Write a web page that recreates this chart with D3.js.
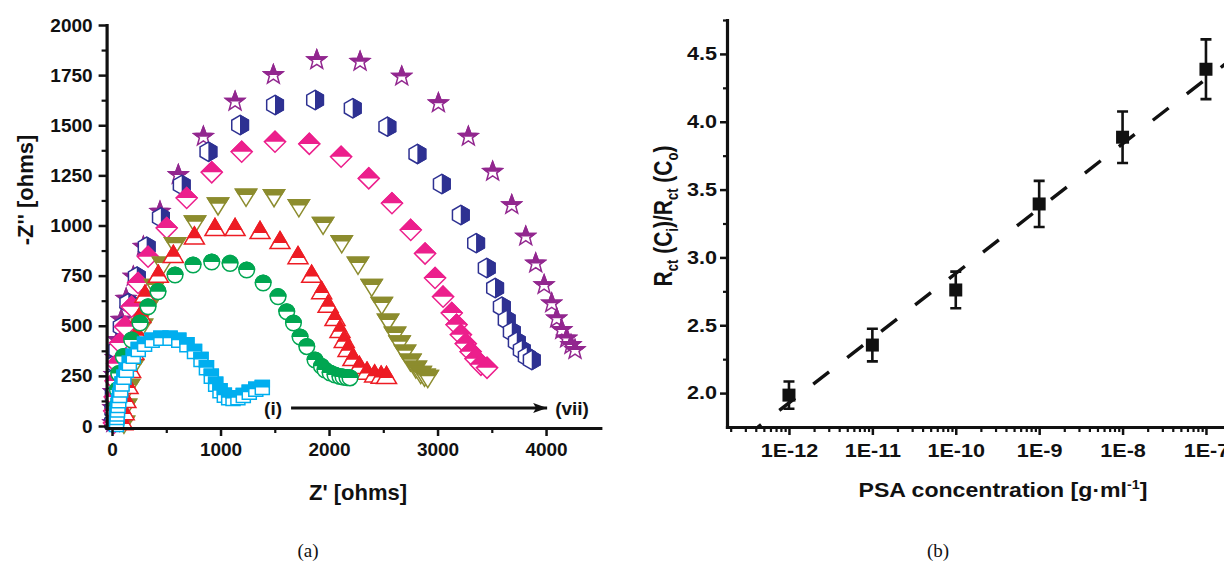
<!DOCTYPE html>
<html>
<head>
<meta charset="utf-8">
<script src="https://cdn.jsdelivr.net/npm/d3@7"></script>
<style>
body { margin: 0; background: #fff; }
text { font-family: "Liberation Sans", Arial, sans-serif; font-weight: bold; fill: #111; }
</style>
</head>
<body>
<svg id="fig" width="1224" height="563"></svg>
<script>
/////////////////////////////////////////////////////////////////////////////
// panel (a): Nyquist plots, each point is [Z' (ohms), -Z'' (ohms)]
var s1 = [[40,8],[42,25],[44,42],[47,60],[51,80],[56,102],[62,126],[70,152],[80,180],[93,210],[110,243],[132,278],[160,313],[196,348],[242,381],[300,408],[370,428],[450,438],[535,438],[615,428],[690,405],[760,372],[820,332],[870,290],[915,248],[955,208],[995,176],[1035,153],[1075,141],[1115,137],[1160,141],[1210,152],[1265,168],[1325,183],[1385,192]];
var s2 = [[38,15],[42,95],[50,180],[62,262],[104,346],[181,429],[258,514],[332,595],[424,670],[581,753],[747,803],[919,818],[1088,811],[1241,778],[1393,713],[1530,645],[1610,570],[1672,514],[1733,444],[1795,396],[1871,329],[1930,298],[1963,279],[2010,264],[2055,254],[2100,247],[2129,244],[2165,241],[2193,240]];
var s3 = [[100,10],[112,60],[128,120],[148,190],[172,270],[200,360],[232,450],[265,545],[304,645],[427,745],[565,844],[759,936],[949,978],[1134,978],[1364,963],[1548,913],[1714,838],[1840,745],[1932,663],[1991,595],[2055,529],[2101,470],[2140,420],[2175,375],[2220,330],[2280,290],[2350,262],[2420,248],[2480,242],[2530,240]];
var s4 = [[110,20],[129,105],[157,204],[194,304],[230,404],[276,504],[332,603],[396,703],[470,813],[581,911],[765,1019],[977,1109],[1235,1152],[1493,1150],[1722,1100],[1945,1012],[2117,920],[2267,813],[2393,703],[2486,613],[2544,529],[2608,464],[2650,420],[2700,375],[2750,330],[2800,295],[2845,268],[2880,255],[2910,248]];
var s5 = [[18,15],[20,75],[25,145],[33,225],[48,310],[74,414],[120,495],[181,595],[240,713],[332,844],[504,987],[688,1137],[919,1265],[1195,1368],[1502,1418],[1818,1407],[2111,1343],[2366,1235],[2580,1111],[2753,978],[2885,860],[2977,738],[3051,645],[3131,563],[3175,505],[3215,455],[3260,410],[3305,370],[3350,335],[3400,305],[3456,290]];
var s6 = [[10,15],[12,80],[16,155],[24,240],[34,310],[48,380],[89,495],[150,613],[228,745],[319,894],[450,1040],[642,1202],[888,1368],[1180,1501],[1502,1601],[1871,1626],[2218,1585],[2537,1493],[2814,1357],[3039,1207],[3214,1052],[3355,912],[3453,788],[3530,688],[3592,595],[3637,529],[3684,470],[3730,420],[3776,379],[3822,346],[3868,329]];
var s7 = [[8,15],[9,90],[12,170],[20,255],[32,340],[52,430],[85,530],[130,635],[196,745],[289,894],[442,1069],[611,1252],[842,1443],[1134,1618],[1487,1751],[1887,1825],[2286,1817],[2670,1743],[3008,1610],[3284,1443],[3508,1268],[3684,1102],[3813,945],[3905,811],[3982,703],[4052,612],[4098,537],[4145,479],[4190,437],[4230,404],[4267,379]];
var seriesA = [s1, s2, s3, s4, s5, s6, s7];
var xTicksA = [0, 1000, 2000, 3000, 4000];
var xMinorA = [500, 1500, 2500, 3500];
var yTicksA = [0, 250, 500, 750, 1000, 1250, 1500, 1750, 2000];
var yMinorA = [125, 375, 625, 875, 1125, 1375, 1625, 1875];

// panel (b): normalised charge transfer resistance vs PSA concentration
var conc = [1e-12, 1e-11, 1e-10, 1e-9, 1e-8, 1e-7];
var ratio = [1.985, 2.354, 2.76, 3.394, 3.886, 4.387];
var ratioErr = [0.10, 0.12, 0.135, 0.17, 0.19, 0.22];
var fitConc = [4.25e-13, 2.5e-7];
var fitRatio = [1.75, 4.505];
var yTicksB = [2.0, 2.5, 3.0, 3.5, 4.0, 4.5];
var yMinorB = [2.25, 2.75, 3.25, 3.75, 4.25, 4.75];

/////////////////////////////////////////////////////////////////////////////
var svg = d3.select("#fig");
var ink = "#111";

// marker look for each series (i)..(vii)
var looks = [
  {shape:"square",  color:"#00aeef", half:"top"},
  {shape:"circle",  color:"#00a651", half:"top"},
  {shape:"up",      color:"#ed1c24", half:"top"},
  {shape:"down",    color:"#8c8c2e", half:"top"},
  {shape:"diamond", color:"#ec1f8c", half:"top"},
  {shape:"hex",     color:"#2e3192", half:"right"},
  {shape:"star",    color:"#92278f", half:"top"}
];

function shapePath(shape) {
  if (shape=="square") { var h = 7; return "M"+(-h)+","+(-h)+"H"+h+"V"+h+"H"+(-h)+"Z"; }
  if (shape=="circle") { var r = 7.8; return "M"+r+",0A"+r+","+r+" 0 1,1 "+(-r)+",0A"+r+","+r+" 0 1,1 "+r+",0Z"; }
  if (shape=="up") { var w = 10, t = 17; return "M0,"+(-2*t/3)+"L"+w+","+(t/3)+"L"+(-w)+","+(t/3)+"Z"; }
  if (shape=="down") { var w = 10.5, t = 17; return "M"+(-w)+","+(-t/3)+"L"+w+","+(-t/3)+"L0,"+(2*t/3)+"Z"; }
  if (shape=="diamond") { var d = 10.5; return "M0,"+(-d)+"L"+d+",0L0,"+d+"L"+(-d)+",0Z"; }
  if (shape=="hex") {
    var R = 9.6, a = R*0.866;
    return "M0,"+(-R)+"L"+a+","+(-R/2)+"L"+a+","+(R/2)+"L0,"+R+"L"+(-a)+","+(R/2)+"L"+(-a)+","+(-R/2)+"Z";
  }
  // five point star
  var pts = [];
  for (var k=0; k<10; k++) {
    var rr = (k%2==0) ? 10 : 4.2;
    var ang = -Math.PI/2 + k*Math.PI/5;
    pts.push([rr*Math.cos(ang), rr*Math.sin(ang)]);
  }
  return "M" + pts.map(function(p){ return p[0].toFixed(2)+","+p[1].toFixed(2); }).join("L") + "Z";
}

var defs = svg.append("defs");
defs.append("clipPath").attr("id","half-top")
    .append("rect").attr("x",-16).attr("y",-16).attr("width",32).attr("height",16);
defs.append("clipPath").attr("id","half-right")
    .append("rect").attr("x",0).attr("y",-16).attr("width",16).attr("height",32);
defs.append("marker").attr("id","arrowhead")
    .attr("markerUnits","userSpaceOnUse")
    .attr("markerWidth",15).attr("markerHeight",10)
    .attr("refX",14).attr("refY",5).attr("orient","auto")
    .append("path").attr("d","M0,0L14,5L0,10L3,5Z").attr("fill",ink);

function styleAxis(g) {
  g.select(".domain").attr("stroke",ink).attr("stroke-width",3.2).attr("stroke-linecap","square");
  g.selectAll(".tick line").attr("stroke",ink).attr("stroke-width",2.5);
}
function minorAxis(g) {
  g.select(".domain").remove();
  g.selectAll(".tick line").attr("stroke",ink).attr("stroke-width",2.2);
}

/////////////////////////////////////////////////////////////////////////////
// panel (a)
var xA = d3.scaleLinear().domain([-50, 4500]).range([106.6, 600.3]);
var yA = d3.scaleLinear().domain([-10, 2000]).range([428, 25]);
var gA = svg.append("g");

// plot markers, last series underneath, first on top
for (var si = seriesA.length-1; si >= 0; si--) {
  var look = looks[si];
  var path = shapePath(look.shape);
  var pts = gA.append("g").selectAll("g.pt" + si)
      .data(seriesA[si])
      .enter()
      .append("g")
      .attr("transform", function(d) { return "translate(" + xA(d[0]) + "," + yA(d[1]) + ")"; });
  pts.append("path")
      .attr("d", path)
      .attr("fill", "#fff")
      .attr("stroke", look.color)
      .attr("stroke-width", 1.5);
  pts.append("path")
      .attr("d", path)
      .attr("fill", look.color)
      .attr("stroke", look.color)
      .attr("stroke-width", 1.5)
      .attr("clip-path", "url(#half-" + look.half + ")");
}

var axA_x = gA.append("g").attr("transform","translate(0,428)")
    .call(d3.axisBottom(xA).tickValues(xTicksA).tickFormat(d3.format("d"))
          .tickSize(8).tickSizeOuter(0).tickPadding(7));
styleAxis(axA_x);
axA_x.selectAll("text").style("font-size","19px");
gA.append("g").attr("transform","translate(0,428)")
    .call(d3.axisBottom(xA).tickValues(xMinorA).tickFormat("").tickSize(5))
    .call(minorAxis);

var axA_y = gA.append("g").attr("transform","translate(106.6,0)")
    .call(d3.axisLeft(yA).tickValues(yTicksA).tickFormat(d3.format("d"))
          .tickSize(8).tickSizeOuter(0).tickPadding(6));
styleAxis(axA_y);
axA_y.selectAll("text").style("font-size","19px");
gA.append("g").attr("transform","translate(106.6,0)")
    .call(d3.axisLeft(yA).tickValues(yMinorA).tickFormat("").tickSize(5))
    .call(minorAxis);

gA.append("text")
    .text("Z' [ohms]")
    .attr("x", 358)
    .attr("y", 500)
    .style("font-size","22px")
    .style("text-anchor","middle");
gA.append("text")
    .text("-Z'' [ohms]")
    .attr("transform","translate(33,190) rotate(-90)")
    .style("font-size","22px")
    .style("text-anchor","middle");

// (i) -> (vii) arrow
gA.append("line")
    .attr("x1", xA(1650)).attr("x2", xA(4010))
    .attr("y1", yA(90)).attr("y2", yA(90))
    .attr("stroke", ink).attr("stroke-width", 3)
    .attr("marker-end","url(#arrowhead)");
gA.append("text").text("(i)")
    .attr("x", xA(1650) - 9).attr("y", yA(90) + 7)
    .style("font-size","19px").style("text-anchor","end");
gA.append("text").text("(vii)")
    .attr("x", xA(4010) + 8).attr("y", yA(90) + 7)
    .style("font-size","19px").style("text-anchor","start");

/////////////////////////////////////////////////////////////////////////////
// panel (b)
var xB = d3.scaleLog().domain([Math.pow(10,-12.743), Math.pow(10,-6.6)]).range([727, 727 + 83.4*6.143]);
var yB = d3.scaleLinear().domain([1.75, 4.75]).range([427, 20]);
var gB = svg.append("g");
var stretch = 1.2;

var fitLine = d3.line()
    .x(function(d) { return xB(d[0]); })
    .y(function(d) { return yB(d[1]); });
gB.append("path")
    .datum(d3.zip(fitConc, fitRatio))
    .attr("d", fitLine)
    .attr("fill","none")
    .attr("stroke", ink)
    .attr("stroke-width", 3.4)
    .attr("stroke-dasharray","20,23")
    .attr("stroke-dashoffset", 16);

var dataB = d3.zip(conc, ratio, ratioErr);
gB.selectAll("errbars")
    .data(dataB)
    .enter()
    .append("path")
    .attr("d", function(d) {
      var x = xB(d[0]), y1 = yB(d[1]+d[2]), y2 = yB(d[1]-d[2]);
      return "M"+(x-5.5)+","+y1+"H"+(x+5.5)+"M"+x+","+y1+"V"+y2+"M"+(x-5.5)+","+y2+"H"+(x+5.5);
    })
    .attr("fill","none")
    .attr("stroke", ink)
    .attr("stroke-width", 2.6);
gB.selectAll("squaresB")
    .data(dataB)
    .enter()
    .append("rect")
    .attr("x", function(d) { return xB(d[0]) - 6.5; })
    .attr("y", function(d) { return yB(d[1]) - 6.5; })
    .attr("width", 13)
    .attr("height", 13)
    .attr("fill", ink);

var axB_x = gB.append("g").attr("transform","translate(0,427)")
    .call(d3.axisBottom(xB).tickValues(conc)
          .tickFormat(function(d) { return "1E" + Math.round(Math.log10(d)); })
          .tickSize(8).tickSizeOuter(0).tickPadding(9));
styleAxis(axB_x);
axB_x.selectAll("text").style("font-size","18px").attr("transform","scale(" + stretch + ",1)");
var minorB = xB.ticks().filter(function(v) {
  var e = Math.log10(v);
  return Math.abs(e - Math.round(e)) > 1e-6;
});
gB.append("g").attr("transform","translate(0,427)")
    .call(d3.axisBottom(xB).tickValues(minorB).tickFormat("").tickSize(5))
    .call(minorAxis);

var axB_y = gB.append("g").attr("transform","translate(727,0)")
    .call(d3.axisLeft(yB).tickValues(yTicksB).tickFormat(d3.format(".1f"))
          .tickSize(7).tickSizeOuter(0));
styleAxis(axB_y);
axB_y.selectAll("text")
    .style("font-size","18px")
    .attr("x", -10/stretch)
    .attr("transform","scale(" + stretch + ",1)");
gB.append("g").attr("transform","translate(727,0)")
    .call(d3.axisLeft(yB).tickValues(yMinorB).tickFormat("").tickSize(4))
    .call(minorAxis);

var xtB = gB.append("text")
    .attr("transform","translate(1003,497) scale(1.1,1)")
    .style("font-size","21px")
    .style("text-anchor","middle");
xtB.append("tspan").text("PSA concentration [g\u00b7ml");
xtB.append("tspan").text("-1").attr("dy",-8).style("font-size","13px");
xtB.append("tspan").text("]").attr("dy",8);

var ytB = gB.append("text")
    .attr("transform","translate(672,216) scale(1.2,1) rotate(-90)")
    .style("font-size","21px")
    .style("text-anchor","middle");
[["R",""],["ct","sub"],[" (C",""],["i","sub"],[")/R",""],["ct","sub"],[" (C",""],["o","sub"],[")",""]]
  .forEach(function(p, k, arr) {
    var prevSub = k > 0 && arr[k-1][1] == "sub";
    var dy = p[1] == "sub" ? 5 : (prevSub ? -5 : 0);
    ytB.append("tspan").text(p[0])
       .attr("dy", dy)
       .style("font-size", p[1] == "sub" ? "13px" : "21px");
  });

/////////////////////////////////////////////////////////////////////////////
// captions
svg.append("text").text("(a)").attr("x",308).attr("y",557)
   .style("font-family","'Liberation Serif', 'Times New Roman', serif")
   .style("font-weight","normal").style("font-size","19px").style("text-anchor","middle");
svg.append("text").text("(b)").attr("x",938).attr("y",557)
   .style("font-family","'Liberation Serif', 'Times New Roman', serif")
   .style("font-weight","normal").style("font-size","19px").style("text-anchor","middle");
</script>
</body>
</html>
